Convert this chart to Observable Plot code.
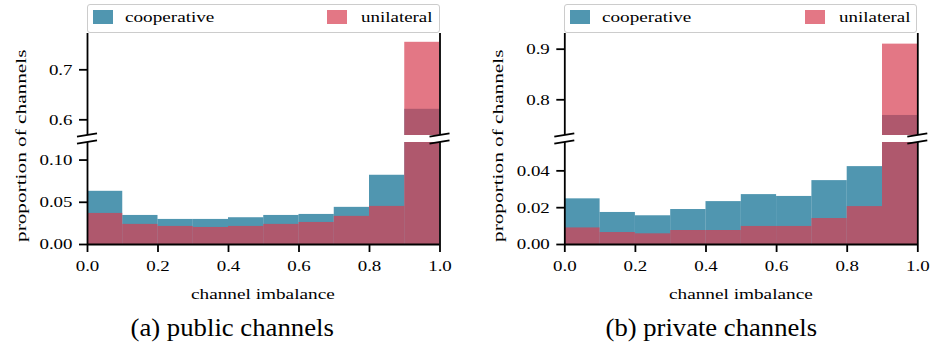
<!DOCTYPE html>
<html>
<head>
<meta charset="utf-8">
<script src="https://cdn.jsdelivr.net/npm/d3@7"></script>
<script src="https://cdn.jsdelivr.net/npm/@observablehq/plot@0.6"></script>
<style>
  html, body { margin: 0; padding: 0; background: white; }
  #root { position: relative; width: 935px; height: 347px; overflow: hidden; font-family: "Liberation Serif", serif; color: black; }
  #root svg { position: absolute; left: 0; top: 0; }
  .txt { position: absolute; white-space: nowrap; font-family: "Liberation Serif", serif; font-size: 15.5px; line-height: 1; }
  .cap { font-size: 24.5px; }
  .legend { position: absolute; box-sizing: border-box; height: 29px; top: 4px; border: 1px solid #cccccc; border-radius: 3px; background: rgba(255,255,255,0.8); font-family: "Liberation Serif", serif; font-size: 15.5px; }
  .sw { position: absolute; top: 5px; width: 20px; height: 14px; }
  .lt { position: absolute; top: 4px; white-space: nowrap; line-height: 1; }
</style>
</head>
<body>
<div id="root"></div>
<script>
// ---- data ----
const binLo = [0.0, 0.1, 0.2, 0.3, 0.4, 0.5, 0.6, 0.7, 0.8, 0.9];
const binHi = [0.1, 0.2, 0.3, 0.4, 0.5, 0.6, 0.7, 0.8, 0.9, 1.0];
const publicCoop  = [0.063, 0.0344, 0.0297, 0.0297, 0.0317, 0.0344, 0.0356, 0.044, 0.082, 0.621];
const publicUni   = [0.0368, 0.0238, 0.0214, 0.0202, 0.0214, 0.0238, 0.0261, 0.0333, 0.0451, 0.755];
const privateCoop = [0.0248, 0.0174, 0.0156, 0.019, 0.0233, 0.0271, 0.0261, 0.0347, 0.0423, 0.769];
const privateUni  = [0.009, 0.0065, 0.0058, 0.0076, 0.0076, 0.0098, 0.0098, 0.0141, 0.0206, 0.91];
const xTicks = [0, 0.2, 0.4, 0.6, 0.8, 1.0];
const publicTopTicks = [0.6, 0.7];
const publicBottomTicks = [0, 0.05, 0.10];
const privateTopTicks = [0.8, 0.9];
const privateBottomTicks = [0, 0.02, 0.04];
const seriesNames = ["cooperative", "unilateral"];
const captions = ["(a) public channels", "(b) private channels"];
const xLabel = "channel imbalance";
const yLabel = "proportion of channels";

const coopColor = "rgb(5,105,142)";
const uniColor = "rgb(215,61,81)";
const coopSwatch = "#5096b0";
const uniSwatch = "#e37785";
const STRETCH = 1.22;

const root = document.getElementById("root");
const W = 935;

function rows(vals) { return vals.map((v, i) => ({lo: binLo[i], hi: binHi[i], v})); }

function section({coop, uni, domain, ticks, fmt, mLeft, mRight, top, bottom, height, showX}) {
  const marks = [
    Plot.rect(rows(coop), {x1: "lo", x2: "hi", y1: () => 0, y2: "v", fill: coopColor, fillOpacity: 0.7, clip: true}),
    Plot.rect(rows(uni), {x1: "lo", x2: "hi", y1: () => 0, y2: "v", fill: uniColor, fillOpacity: 0.7, clip: true}),
    Plot.axisY({ticks, tickFormat: d3.format(fmt), tickSize: 8, tickPadding: 7, strokeWidth: 1.8}),
    Plot.ruleX([0, 1], {stroke: "black", strokeWidth: 1.8})
  ];
  if (showX) {
    marks.push(Plot.axisX({ticks: xTicks, tickFormat: d3.format(".1f"), tickSize: 8, tickPadding: 7, strokeWidth: 1.8, label: null}));
    marks.push(Plot.ruleY([0], {stroke: "black", strokeWidth: 1.8}));
  } else {
    marks.push(Plot.axisX({ticks: [], label: null}));
  }
  return Plot.plot({
    width: W, height,
    marginLeft: mLeft, marginRight: mRight, marginTop: top, marginBottom: height - bottom,
    x: {domain: [0, 1], label: null},
    y: {domain, label: null},
    style: {background: "transparent", fontFamily: "Liberation Serif", fontSize: "15.5px", color: "black", overflow: "visible"},
    marks
  });
}

function stretchTexts(plot) {
  plot.querySelectorAll("text").forEach(t => {
    const L = t.getComputedTextLength();
    if (L > 0) {
      t.setAttribute("textLength", (L * STRETCH).toFixed(2));
      t.setAttribute("lengthAdjust", "spacingAndGlyphs");
    }
  });
}

function breaks(plot, atBottom) {
  const xs = plot.scale("x"), ys = plot.scale("y");
  const yEdge = atBottom ? ys.apply(ys.domain[0]) : ys.apply(ys.domain[1]);
  const svg = d3.select(plot);
  [xs.apply(xs.domain[0]), xs.apply(xs.domain[1])].forEach(x => {
    svg.append("line").attr("x1", x - 10).attr("x2", x + 10)
      .attr("y1", yEdge + 1.7).attr("y2", yEdge - 1.7)
      .attr("stroke", "black").attr("stroke-width", 1.8);
  });
}

// place text centred at (x, y), stretched horizontally to the target width
function addText(cls, text, x, y, target, rotate) {
  const d = document.createElement("div");
  d.className = "txt " + cls;
  d.textContent = text;
  root.appendChild(d);
  const w = d.offsetWidth, h = d.offsetHeight;
  const s = target / w;
  d.style.left = (x - w / 2) + "px";
  d.style.top = (y - h / 2) + "px";
  d.style.transformOrigin = "50% 50%";
  d.style.transform = (rotate ? "rotate(-90deg) " : "") + `scaleX(${s})`;
}

function addLegend(left, right, swatch2Left, w1, w2) {
  const lg = document.createElement("div");
  lg.className = "legend";
  lg.style.left = left + "px";
  lg.style.width = (right - left) + "px";
  lg.innerHTML =
    `<div class="sw" style="left:5px;background:${coopSwatch}"></div>` +
    `<div class="lt" id="a" style="left:37px;transform-origin:0 50%">${seriesNames[0]}</div>` +
    `<div class="sw" style="left:${swatch2Left - left}px;background:${uniSwatch}"></div>` +
    `<div class="lt" id="b" style="right:6px;transform-origin:100% 50%">${seriesNames[1]}</div>`;
  root.appendChild(lg);
  const [a, b] = lg.querySelectorAll(".lt");
  a.style.transform = `scaleX(${w1 / a.offsetWidth})`;
  b.style.transform = `scaleX(${w2 / b.offsetWidth})`;
}

const panels = [
  {coop: publicCoop, uni: publicUni, topDomain: [0.5686, 0.7726], botDomain: [0, 0.1208],
   topTicks: publicTopTicks, botTicks: publicBottomTicks, topFmt: ".1f", botFmt: ".2f",
   mLeft: 87, mRight: W - 439.5, yLabX: 21, cap: captions[0], capX: 231.5, capW: 203, sw2: 326},
  {coop: privateCoop, uni: privateUni, topDomain: [0.7294, 0.931], botDomain: [0, 0.0554],
   topTicks: privateTopTicks, botTicks: privateBottomTicks, topFmt: ".1f", botFmt: ".2f",
   mLeft: 564.3, mRight: W - 917.3, yLabX: 498, cap: captions[1], capX: 711, capW: 212, sw2: 804}
];

panels.forEach(p => {
  const topPlot = section({coop: p.coop, uni: p.uni, domain: p.topDomain, ticks: p.topTicks, fmt: p.topFmt,
    mLeft: p.mLeft, mRight: p.mRight, top: 33, bottom: 135, height: 140, showX: false});
  const botPlot = section({coop: p.coop, uni: p.uni, domain: p.botDomain, ticks: p.botTicks, fmt: p.botFmt,
    mLeft: p.mLeft, mRight: p.mRight, top: 142, bottom: 244, height: 347, showX: true});
  root.appendChild(topPlot);
  root.appendChild(botPlot);
  stretchTexts(topPlot);
  stretchTexts(botPlot);
  breaks(topPlot, true);
  breaks(botPlot, false);
  const cx = (p.mLeft + (W - p.mRight)) / 2;
  addText("", xLabel, cx, 294, 144, false);
  addText("", yLabel, p.yLabX, 146, 192, true);
  addText("cap", p.cap, p.capX, 328, p.capW, false);
  addLegend(p.mLeft, W - p.mRight, p.sw2, 89, 72);
});
</script>
</body>
</html>
